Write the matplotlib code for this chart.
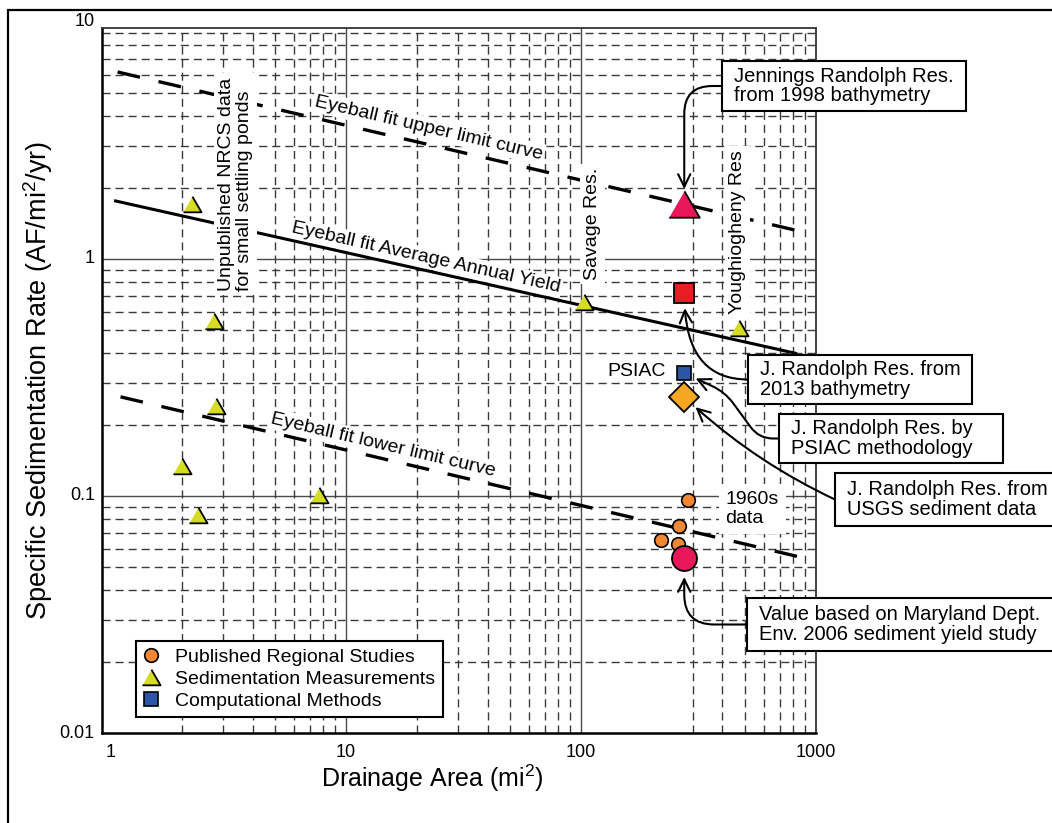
import matplotlib
matplotlib.use('Agg')
import matplotlib.pyplot as plt
from matplotlib.lines import Line2D
from matplotlib.patches import Rectangle

plt.rcParams['font.family'] = ['Liberation Sans', 'DejaVu Sans']
plt.rcParams['mathtext.fontset'] = 'custom'
plt.rcParams['mathtext.rm'] = 'Liberation Sans'
plt.rcParams['mathtext.it'] = 'Liberation Sans:italic'

# ---- values ----
# sedimentation measurements (NRCS settling ponds, Savage, Youghiogheny)
meas_area = [2.2, 2.75, 2.8, 2.0, 2.35, 7.7, 103, 470]
meas_rate = [1.7, 0.55, 0.24, 0.134, 0.083, 0.101, 0.66, 0.51]

# published regional studies (1960s data)
pub_area = [284, 260, 218, 258]
pub_rate = [0.096, 0.075, 0.065, 0.063]

# Jennings Randolph reservoir estimates
jr_area = 275
jr_1998 = 1.7
jr_2013 = 0.72
jr_psiac = 0.33
jr_usgs = 0.262
jr_mde = 0.055

# eyeball fit curves, end points
upper_area = [1.066, 911]
upper_rate = [6.15, 1.29]
avg_area = [1.045, 818]
avg_rate = [1.757, 0.40]
lower_area = [1.097, 966]
lower_rate = [0.262, 0.0537]

x_tick_vals = [1, 10, 100, 1000]
y_tick_vals = [0.01, 0.1, 1, 10]

# gridlines (no 200 line in the original)
x_major_grid = [10, 100]
x_minor_grid = [2, 3, 4, 5, 6, 7, 8, 9, 20, 30, 40, 50, 60, 70, 80, 90,
                300, 400, 500, 600, 700, 800, 900]
y_major_grid = [0.1, 1]
y_minor_grid = [m * d for d in (0.01, 0.1, 1) for m in range(2, 10)]

# colours
c_meas = '#d6dc22'
c_pub = '#f08732'
c_comp = '#2d55a5'
c_pink = '#e8165a'
c_red = '#e61e24'
c_orange = '#f5a623'

W, H = 1052, 823
fig = plt.figure(figsize=(W / 100, H / 100), dpi=100)
ax = fig.add_axes([102 / W, 1 - 733 / H, 714 / W, 705 / H])
ax.set_xscale('log')
ax.set_yscale('log')
ax.set_xlim(0.915, 1000)
ax.set_ylim(0.01, 9.43)
ax.tick_params(which='both', length=0, labelbottom=False, labelleft=False)

for s in ['left', 'bottom']:
    ax.spines[s].set_linewidth(1.8)
for s in ['top', 'right']:
    ax.spines[s].set_linewidth(1.3)
    ax.spines[s].set_color('#333333')

# grid
for v in x_major_grid:
    ax.axvline(v, color='#4a4a4a', lw=1.0, zorder=1)
for v in y_major_grid:
    ax.axhline(v, color='#4a4a4a', lw=1.0, zorder=1)
for v in x_minor_grid:
    ax.axvline(v, color='#3a3a3a', lw=1.0, ls=(0, (5.8, 3.6)), zorder=1)
for v in y_minor_grid:
    ax.axhline(v, color='#3a3a3a', lw=1.0, ls=(0, (5.8, 3.6)), zorder=1)

# tick labels
for v in x_tick_vals:
    ax.text(v, -0.016, str(v), transform=ax.get_xaxis_transform(),
            ha='center', va='top', fontsize=13)
for v in y_tick_vals:
    ax.text(-0.01, v, '%g' % v, transform=ax.get_yaxis_transform(),
            ha='right', va='center', fontsize=13)

ax.set_xlabel('Drainage Area (mi$^2$)', fontsize=18)
ax.xaxis.set_label_coords(0.462, -0.042)
ax.set_ylabel('Specific Sedimentation Rate (AF/mi$^2$/yr)', fontsize=19.5)
ax.yaxis.set_label_coords(-0.066, 0.5)

# eyeball fit curves
ax.plot(upper_area, upper_rate, color='black', lw=2.4, ls=(0, (6.9, 5.7)),
        zorder=2)
ax.plot(avg_area, avg_rate, color='black', lw=2.2, zorder=2)
ax.plot(lower_area, lower_rate, color='black', lw=2.4, ls=(0, (6.9, 5.7)),
        zorder=2)

wbox = dict(fc='white', ec='none', pad=1.5)
ax.text(22.4, 3.57, 'Eyeball fit upper limit curve', rotation=-13.2,
        rotation_mode='anchor', ha='center', va='center', fontsize=14,
        bbox=wbox, zorder=1.5)
ax.text(21.8, 1.01, 'Eyeball fit Average Annual Yield', rotation=-12.6,
        rotation_mode='anchor', ha='center', va='center', fontsize=14,
        bbox=wbox, zorder=1.5)
ax.text(14.4, 0.164, 'Eyeball fit lower limit curve', rotation=-13.3,
        rotation_mode='anchor', ha='center', va='center', fontsize=14,
        bbox=wbox, zorder=1.5)

# vertical labels that mask the lines
lbox = dict(fc='white', ec='none', pad=3)
ax.text(3.39, 2.07, 'Unpublished NRCS data\nfor small settling ponds', rotation=90,
        ha='center', va='center', multialignment='left', fontsize=14,
        linespacing=1.05, bbox=lbox, zorder=3)
ax.text(112, 1.405, 'Savage Res.', rotation=90, ha='center', va='center',
        fontsize=14, bbox=lbox, zorder=3)
ax.text(463, 1.30, 'Youghiogheny Res', rotation=90, ha='center', va='center',
        fontsize=14, bbox=lbox, zorder=3)
ax.text(229, 0.335, 'PSIAC', ha='right', va='center', fontsize=14,
        bbox=dict(fc='white', ec='none', pad=1), zorder=3)
ax.text(412, 0.088, '1960s\ndata', ha='left', va='center', fontsize=14,
        linespacing=1.1, bbox=dict(fc='white', ec='none', pad=5), zorder=3)

# data points
tri = [(-1, -0.866), (1, -0.866), (0, 0.866)]
ax.plot(meas_area, meas_rate, ls='none', marker=tri, ms=13, mfc=c_meas,
        mec='black', mew=1.3, zorder=4)
ax.plot(pub_area, pub_rate, ls='none', marker='o', ms=9.8, mfc=c_pub,
        mec='black', mew=1.2, zorder=4)
ax.plot([jr_area], [jr_1998], ls='none', marker=tri, ms=22, mfc=c_pink,
        mec='black', mew=1.3, zorder=4)
ax.plot([jr_area], [jr_2013], ls='none', marker='s', ms=15, mfc=c_red,
        mec='black', mew=1.3, zorder=4)
ax.plot([jr_area], [jr_psiac], ls='none', marker='s', ms=9.5, mfc=c_comp,
        mec='black', mew=1.2, zorder=4)
ax.plot([jr_area], [jr_usgs], ls='none', marker='D', ms=15, mfc=c_orange,
        mec='black', mew=1.3, zorder=4)
ax.plot([jr_area], [jr_mde], ls='none', marker='o', ms=18, mfc=c_pink,
        mec='black', mew=1.3, zorder=4)

# callout boxes (pixel boxes: left, top, right, bottom)
callouts = [
    ('Jennings Randolph Res.\nfrom 1998 bathymetry', (722, 61, 966, 111),
     jr_1998, 'angle,angleA=0,angleB=90,rad=28', 11),
    ('J. Randolph Res. from\n2013 bathymetry', (748, 355, 972, 404),
     jr_2013, 'angle3,angleA=0,angleB=90', 11),
    ('J. Randolph Res. by\nPSIAC methodology', (779, 414, 1003, 463),
     jr_psiac, 'arc,angleA=180,armA=20,angleB=-25,armB=45,rad=14', 9),
    ('J. Randolph Res. from\nUSGS sediment data', (835, 473, 1070, 526),
     jr_usgs, 'arc3,rad=-0.08', 11),
    ('Value based on Maryland Dept.\nEnv. 2006 sediment yield study',
     (747, 598, 1070, 651), jr_mde, 'angle,angleA=0,angleB=90,rad=30', 14),
]
for text, (x0, y0, x1, y1), val, cs, sb in callouts:
    ax.add_patch(Rectangle((x0 / W, 1 - y1 / H), (x1 - x0) / W, (y1 - y0) / H,
                           transform=fig.transFigure, fc='white', ec='black',
                           lw=1.5, clip_on=False, zorder=5))
    ym = (y0 + y1) / 2
    ax.text((x0 + 12) / W, 1 - ym / H, text, transform=fig.transFigure,
            ha='left', va='center', fontsize=14.5, linespacing=1.05, zorder=7)
    ax.annotate('', xy=(jr_area, val), xycoords='data',
                xytext=(x0 / W, 1 - ym / H), textcoords='figure fraction',
                arrowprops=dict(arrowstyle='->,head_length=0.45,head_width=0.22',
                                mutation_scale=20, lw=1.5, color='black',
                                connectionstyle=cs, shrinkA=0, shrinkB=sb),
                annotation_clip=False, zorder=6)

# legend
handles = [
    Line2D([], [], ls='none', marker='o', ms=9.8, mfc=c_pub, mec='black', mew=1.2),
    Line2D([], [], ls='none', marker=tri, ms=13, mfc=c_meas, mec='black', mew=1.3),
    Line2D([], [], ls='none', marker='s', ms=9.5, mfc=c_comp, mec='black', mew=1.2),
]
labels = ['Published Regional Studies', 'Sedimentation Measurements',
          'Computational Methods']
leg = ax.legend(handles, labels, loc='lower left', bbox_to_anchor=(0.0476, 0.0227),
                borderaxespad=0, fontsize=14, handlelength=0.8,
                handletextpad=0.85, labelspacing=0.22, borderpad=0.38,
                fancybox=False, edgecolor='black', framealpha=1)
leg.get_frame().set_linewidth(1.5)
leg.set_zorder(8)

# outer frame of the figure (runs off the right and bottom edges)
fig.add_artist(Rectangle((8 / W, -0.2), 1.5, 0.2 + 1 - 10 / H,
                         transform=fig.transFigure, fc='none', ec='black', lw=1.6))

fig.savefig('out.png', dpi=100)
